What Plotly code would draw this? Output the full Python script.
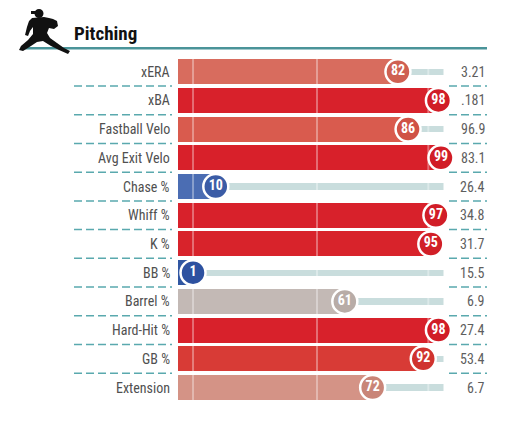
import plotly.graph_objects as go

# Percentile rankings - pitching
metrics = ["xERA", "xBA", "Fastball Velo", "Avg Exit Velo", "Chase %", "Whiff %",
           "K %", "BB %", "Barrel %", "Hard-Hit %", "GB %", "Extension"]
percentiles = [82, 98, 86, 99, 10, 97, 95, 1, 61, 98, 92, 72]
values = ["3.21", ".181", "96.9", "83.1", "26.4", "34.8", "31.7", "15.5", "6.9", "27.4", "53.4", "6.7"]

bar_colors = ["#d86c5e", "#d8212b", "#d95b4e", "#d8202a", "#4b6db3", "#d8212b",
              "#d8232b", "#3157a2", "#c3b9b5", "#d8212b", "#d83b36", "#d49386"]
dot_colors = ["#cf6052", "#d11d27", "#d05246", "#d11c26", "#3b5ca6", "#d11d27",
              "#d11f27", "#2d51a0", "#b8aca7", "#d11d27", "#d0332f", "#c98578"]

# the page body has an 8px margin, so the figure is drawn 8px in from the window edge
OFF = 8
W, H = 508 - 2 * OFF, 428 - 2 * OFF
LABEL_FONT = "Roboto Condensed, Liberation Sans Narrow, Roboto, sans-serif"
TEAL = "#4a9499"
DASH = "#5aa9ae"

rows = list(range(len(metrics)))
bar_start = -5


def px(x, y):
    # window pixel -> paper coords
    return (x - OFF) / W, 1 - (y - OFF) / H


fig = go.Figure()

# main bars
fig.add_trace(go.Bar(
    y=rows, x=[p - bar_start for p in percentiles], base=bar_start,
    orientation="h", width=0.87,
    marker=dict(color=bar_colors, line=dict(width=0)),
    hoverinfo="skip", showlegend=False,
))

# remaining track
fig.add_trace(go.Bar(
    y=rows, x=[100 - p for p in percentiles], base=percentiles,
    orientation="h", width=0.22,
    marker=dict(color="#c9dddd", line=dict(width=0)),
    hoverinfo="skip", showlegend=False,
))

# faint reference lines
for ref in [1, 50, 94]:
    fig.add_trace(go.Scatter(
        x=[ref, ref], y=[-0.5, len(metrics) - 0.5], mode="lines",
        line=dict(color="rgba(255,255,255,0.35)", width=2),
        hoverinfo="skip", showlegend=False,
    ))

# percentile circles
fig.add_trace(go.Scatter(
    x=percentiles, y=rows, mode="markers+text", cliponaxis=False,
    text=[str(p) for p in percentiles], textposition="middle center",
    textfont=dict(family=LABEL_FONT, size=14, color="white", weight="bold"),
    marker=dict(size=25, color=dot_colors, line=dict(color="white", width=2.5)),
    hoverinfo="skip", showlegend=False,
))

annotations = []
shapes = []
for i, (m, v) in enumerate(zip(metrics, values)):
    annotations.append(dict(x=px(172, 0)[0], xref="paper", y=i, yref="y", text=m,
                            xanchor="right", yanchor="middle", showarrow=False,
                            font=dict(family=LABEL_FONT, size=14, color="#505050")))
    annotations.append(dict(x=px(487, 0)[0], xref="paper", y=i, yref="y", text=v,
                            xanchor="right", yanchor="middle", showarrow=False,
                            font=dict(family=LABEL_FONT, size=14, color="#5e5e5e")))
    if i < len(metrics) - 1:
        for a, b in [(74, 172), (449, 487)]:
            shapes.append(dict(type="line", xref="paper", yref="y",
                               x0=px(a, 0)[0], x1=px(b, 0)[0], y0=i + 0.5, y1=i + 0.5,
                               line=dict(color=DASH, width=1.5, dash="8px,4px")))

# header
annotations.append(dict(x=px(72, 0)[0], xref="paper", y=px(0, 34)[1], yref="paper",
                        text="<b>Pitching</b>", xanchor="left", yanchor="middle", showarrow=False,
                        font=dict(family=LABEL_FONT, size=19, color="#111111")))
x0, y0 = px(21, 47)
x1, y1 = px(487, 49.5)
shapes.append(dict(type="rect", xref="paper", yref="paper", x0=x0, x1=x1, y0=y1, y1=y0,
                   fillcolor=TEAL, line=dict(width=0)))

# pitcher silhouette (rough)
body = [(32, 18), (44, 17), (49, 18), (53, 19), (57, 21), (58, 26), (54, 29), (49, 28),
        (47, 33), (50, 38), (57, 43), (64, 48), (70, 51), (68, 54), (59, 50), (51, 46),
        (43, 41), (37, 42), (31, 46), (23, 51), (19, 50), (21, 46), (28, 40), (33, 34),
        (33, 27), (30, 31), (28, 36), (25, 35), (27, 27), (29, 21)]
path = "M " + " L ".join("{:.4f},{:.4f}".format(*px(x, y)) for x, y in body) + " Z"
shapes.append(dict(type="path", xref="paper", yref="paper", path=path,
                   fillcolor="#111111", line=dict(width=0)))
hx0, hy0 = px(34.5, 9)
hx1, hy1 = px(43.5, 18)
shapes.append(dict(type="circle", xref="paper", yref="paper", x0=hx0, x1=hx1, y0=hy1, y1=hy0,
                   fillcolor="#111111", line=dict(width=0)))
bx0, by0 = px(31, 11)
bx1, by1 = px(38, 14)
shapes.append(dict(type="rect", xref="paper", yref="paper", x0=bx0, x1=bx1, y0=by1, y1=by0,
                   fillcolor="#111111", line=dict(width=0)))

# axis placement: percentile p sits at window pixel 190.5 + 2.53 * p
px_per = 2.53
x_left, x_right = -5, 100
dom0 = px(190.5 + px_per * x_left, 0)[0]
dom1 = px(190.5 + px_per * x_right, 0)[0]
row_top, row_pitch = 71.7 - OFF, 28.71

fig.update_layout(
    width=W, height=H,
    margin=dict(l=0, r=0, t=0, b=0),
    paper_bgcolor="white", plot_bgcolor="white",
    barmode="overlay", bargap=0,
    xaxis=dict(domain=[dom0, dom1], range=[x_left, x_right], visible=False, fixedrange=True),
    yaxis=dict(domain=[0, 1], range=[(H - row_top) / row_pitch, -row_top / row_pitch],
               visible=False, fixedrange=True),
    annotations=annotations, shapes=shapes,
)

fig.write_html("out.html")
